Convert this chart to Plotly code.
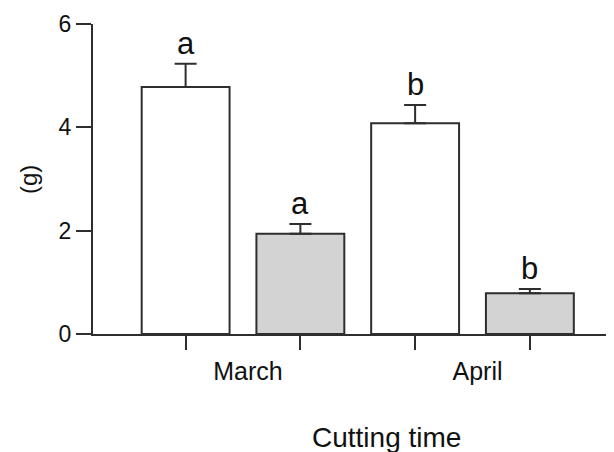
import plotly.graph_objects as go

categories = ["March", "April"]
series_names = ["Treatment 1", "Treatment 2"]
values_1 = [4.78, 4.08]
errors_1 = [0.45, 0.35]
letters_1 = ["a", "b"]
values_2 = [1.94, 0.79]
errors_2 = [0.19, 0.08]
letters_2 = ["a", "b"]
y_ticks = [0, 2, 4, 6]

fills = ["#ffffff", "#d3d3d3"]
offsets = [-0.25, 0.25]
bar_w = 0.383
line_col = "#2e2e2e"
font_fam = "Liberation Sans, Arial, sans-serif"

group_pos = list(range(len(categories)))
fig = go.Figure()
series = [(values_1, errors_1, letters_1), (values_2, errors_2, letters_2)]
bar_centers = []
annotations = []
for k, (vals, errs, lets) in enumerate(series):
    fig.add_trace(go.Bar(
        x=group_pos, y=vals, name=series_names[k],
        offset=offsets[k] - bar_w / 2, width=bar_w,
        marker=dict(color=fills[k], line=dict(color=line_col, width=2)),
        error_y=dict(type="data", symmetric=False, array=errs,
                     arrayminus=[0] * len(errs), color=line_col,
                     thickness=2, width=11),
        showlegend=False,
    ))
    for g, v, e, t in zip(group_pos, vals, errs, lets):
        xc = g + offsets[k]
        bar_centers.append(xc)
        annotations.append(dict(x=xc, y=v + e, xref="x", yref="y", text=t,
                                showarrow=False, yanchor="bottom", yshift=1,
                                font=dict(size=31, color="#111", family=font_fam)))

annotations.append(dict(text="Cutting time", xref="paper", yref="paper",
                        x=0.564, y=-0.335, xanchor="center", yanchor="middle",
                        showarrow=False, font=dict(size=28, color="#111", family=font_fam)))
annotations.append(dict(text="(g)", xref="paper", yref="paper",
                        x=-0.1248, y=0.5, xanchor="center", yanchor="middle",
                        textangle=-90, showarrow=False,
                        font=dict(size=24, color="#111", family=font_fam)))

fig.update_layout(
    width=606, height=444,
    margin=dict(l=85, r=0, t=16, b=118),
    paper_bgcolor="white", plot_bgcolor="white",
    barmode="overlay",
    annotations=annotations,
    font=dict(family=font_fam, color="#111"),
)
fig.update_xaxes(
    range=[-0.6536, 1.6166], tickmode="array", tickvals=group_pos, ticktext=categories,
    ticks="", showline=True, linecolor=line_col, linewidth=2, showgrid=False,
    zeroline=False, tickfont=dict(size=25, family=font_fam, color="#111"),
    ticklabelshift=5, ticklabelstandoff=14,
    minor=dict(tickmode="array", tickvals=bar_centers, ticks="outside",
               ticklen=14, tickwidth=2, tickcolor=line_col, showgrid=False),
)
fig.update_yaxes(
    range=[0, 6], tickmode="array", tickvals=y_ticks, ticks="outside",
    ticklen=15, tickwidth=2, tickcolor=line_col, showline=True,
    linecolor=line_col, linewidth=2, showgrid=False, zeroline=False,
    tickfont=dict(size=23, family=font_fam, color="#111"),
)
fig.write_html("out.html")
